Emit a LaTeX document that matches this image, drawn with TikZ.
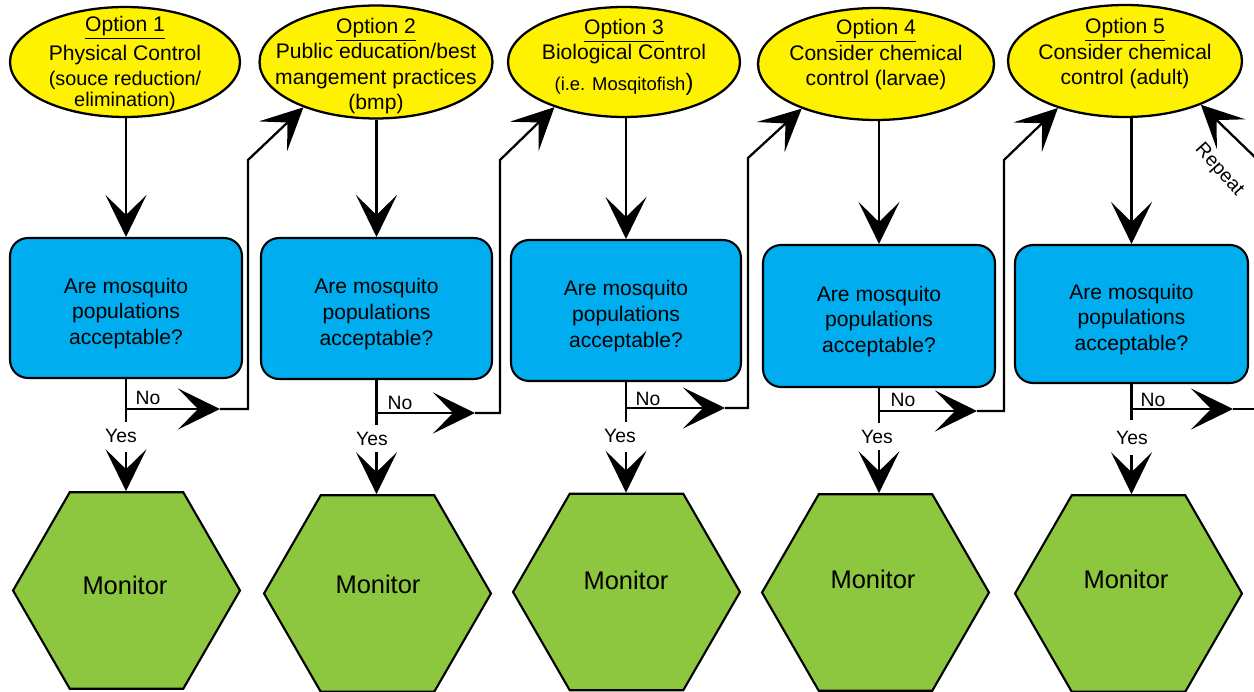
\documentclass[tikz,border=0pt]{standalone}
\usepackage{fontspec}
\setmainfont{Liberation Sans}
\usetikzlibrary{arrows.meta,shapes.geometric}
\definecolor{optyellow}{HTML}{FFF200}
\definecolor{qblue}{HTML}{00AEEF}
\definecolor{mgreen}{HTML}{8DC63F}
\tikzset{
  optell/.style={ellipse, draw, line width=1.3pt, fill=optyellow, inner sep=0pt},
  opttext/.style={align=center, inner sep=0pt, font=\fontsize{12}{14.5}\selectfont},
  qbox/.style={rectangle, rounded corners=0.36cm, draw, line width=1.2pt, fill=qblue,
    align=center, inner sep=0pt, font=\fontsize{12}{14.6}\selectfont},
  monhex/.style={regular polygon, regular polygon sides=6, draw, line width=1.2pt,
    fill=mgreen, minimum size=4.54cm, inner sep=0pt},
  montext/.style={inner sep=0pt, font=\fontsize{14.5}{16}\selectfont},
  lbl/.style={inner sep=0pt, font=\fontsize{11}{13}\selectfont},
  conn/.style={line width=1.3pt},
  bigtip/.style={-{Stealth[length=0.84cm,width=0.82cm,inset=0.4cm]}}
}
\newcommand{\smalltxt}{\fontsize{10.5}{12.5}\selectfont}
\newcommand{\midtxt}{\fontsize{11.3}{12.5}\selectfont}
\newcommand{\qtext}{\rule{0pt}{15pt}Are mosquito\\populations\\acceptable?}
\begin{document}
\begin{tikzpicture}[x=0.02cm,y=-0.02cm]
\path[use as bounding box] (0,0) rectangle (1254,692);
\clip (0,0) rectangle (1254,692);

% ---------- ellipses ----------
\node[optell, minimum width=4.6cm,  minimum height=2.2cm]  (e1) at (125,62) {};
\node[optell, minimum width=4.66cm, minimum height=2.26cm] (e2) at (376,62) {};
\node[optell, minimum width=4.64cm, minimum height=2.2cm]  (e3) at (624,62) {};
\node[optell, minimum width=4.72cm, minimum height=2.24cm] (e4) at (876,64) {};
\node[optell, minimum width=4.68cm, minimum height=2.24cm] (e5) at (1125,61) {};

\node[opttext] (t1) at (125,63.5) {\underline{Option 1}\\[2pt]Physical Control\\{\midtxt (souce reduction/}\\[-2.5pt]{\midtxt elimination)}};
\node[opttext] (t2) at (376,66) {\underline{Option 2}\\Public education/best\\mangement practices\\(bmp)};
\node[opttext] (t3) at (624,57) {\underline{Option 3}\\Biological Control\\[3pt]{\smalltxt (i.e. Mosqitofish}{\fontsize{13.5}{14}\selectfont)}};
\node[opttext] (t4) at (876,55) {\underline{Option 4}\\Consider chemical\\control (larvae)};
\node[opttext] (t5) at (1125,54) {\underline{Option 5}\\Consider chemical\\control (adult)};

% ---------- boxes ----------
\node[qbox, minimum width=4.64cm, minimum height=2.8cm]  (b1) at (126,308)   {\qtext};
\node[qbox, minimum width=4.62cm, minimum height=2.82cm] (b2) at (376.5,308.5) {\qtext};
\node[qbox, minimum width=4.6cm,  minimum height=2.82cm] (b3) at (626,310.5) {\qtext};
\node[qbox, minimum width=4.64cm, minimum height=2.84cm] (b4) at (879,316)   {\qtext};
\node[qbox, minimum width=4.66cm, minimum height=2.76cm] (b5) at (1131.5,314) {\qtext};

% ---------- hexagons ----------
\node[monhex] (h1) at (126.5,590.5) {};
\node[monhex] (h2) at (377.5,593.5) {};
\node[monhex] (h3) at (626.5,592) {};
\node[monhex] (h4) at (875.5,592.5) {};
\node[monhex] (h5) at (1128.5,593.5) {};
\node[montext] (m1) at (125,585) {Monitor};
\node[montext] (m2) at (378,584) {Monitor};
\node[montext] (m3) at (626,580) {Monitor};
\node[montext] (m4) at (873,579) {Monitor};
\node[montext] (m5) at (1126,579) {Monitor};

% ---------- ellipse -> box ----------
\foreach \i in {1,...,5}{
  \draw[conn,bigtip] (b\i.north |- e\i.south) -- (b\i.north);
}

% ---------- yes/no branches ----------
% column 1
\coordinate (ya1) at (b1.south |- 0,422);
\coordinate (nj1) at (b1.south |- 0,409);
\coordinate (na1) at (220,409);
\coordinate (nr1) at (248,409);
\coordinate (nu1) at (248,160);
\coordinate (ys1) at (b1.south |- 0,452);
% column 2
\coordinate (ya2) at (b2.south |- 0,425);
\coordinate (nj2) at (b2.south |- 0,413);
\coordinate (na2) at (475,413);
\coordinate (nr2) at (500,413);
\coordinate (nu2) at (500,160);
\coordinate (ys2) at (b2.south |- 0,452);
% column 3
\coordinate (ya3) at (b3.south |- 0,422);
\coordinate (nj3) at (b3.south |- 0,408);
\coordinate (na3) at (725,408);
\coordinate (nr3) at (748,408);
\coordinate (nu3) at (748,158);
\coordinate (ys3) at (b3.south |- 0,452);
% column 4
\coordinate (ya4) at (b4.south |- 0,423);
\coordinate (nj4) at (b4.south |- 0,411);
\coordinate (na4) at (977,411);
\coordinate (nr4) at (1004,411);
\coordinate (nu4) at (1004,160);
\coordinate (ys4) at (b4.south |- 0,450);
% column 5
\coordinate (ya5) at (b5.south |- 0,420);
\coordinate (nj5) at (b5.south |- 0,409);
\coordinate (na5) at (1233,409);
\coordinate (nr5) at (1262,409);
\coordinate (ys5) at (b5.south |- 0,455);
% repeat
\coordinate (rs) at (1262,164);

\foreach \i in {1,...,5}{
  \draw[conn] (b\i.south) -- (ya\i);
  \draw[conn,bigtip] (nj\i) -- (na\i);
  \draw[conn,bigtip] (ys\i) -- (ys\i |- h\i.north);
}
\draw[conn,bigtip] (na1) -- (nr1) -- (nu1) -- (e2.212);
\draw[conn,bigtip] (na2) -- (nr2) -- (nu2) -- (e3.213);
\draw[conn,bigtip] (na3) -- (nr3) -- (nu3) -- (e4.211);
\draw[conn,bigtip] (na4) -- (nr4) -- (nu4) -- (e5.215);
\draw[conn] (na5) -- (nr5);
\draw[conn,bigtip] (rs) -- (e5.330);

% ---------- labels ----------
\node[lbl] (no1) at (148,398) {No};
\node[lbl] (no2) at (400,403) {No};
\node[lbl] (no3) at (648,399) {No};
\node[lbl] (no4) at (903,400) {No};
\node[lbl] (no5) at (1153,400) {No};
\node[lbl] (yes1) at (121,436) {Yes};
\node[lbl] (yes2) at (372,439) {Yes};
\node[lbl] (yes3) at (620,436) {Yes};
\node[lbl] (yes4) at (877,437) {Yes};
\node[lbl] (yes5) at (1132,438) {Yes};
\node[lbl, rotate=-48] (rep) at (1219,170) {Repeat};
\end{tikzpicture}
\end{document}
